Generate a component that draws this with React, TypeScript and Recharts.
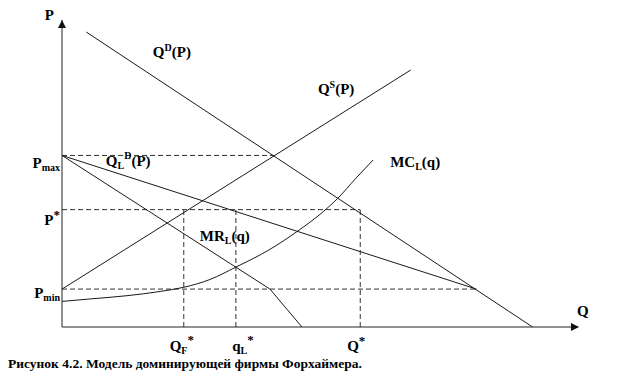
import { ComposedChart, Line, XAxis, YAxis, ReferenceLine, ReferenceDot } from "recharts";

// price levels and quantities (chart units: Q 0..100, P 0..102)
const P_MAX = 57;
const P_STAR = 39;
const P_MIN = 12.6;
const Q_F = 23.6;
const Q_L = 33.7;
const Q_STAR = 57.8;
const Q_CROSS = 41.1; // supply meets market demand at P_max
const Q_KINK = 80.3; // leader's demand joins market demand at P_min

const yTicks = [P_MIN, P_STAR, P_MAX];
const xTicks = [Q_F, Q_L, Q_STAR];

const marketDemand = [
  { q: 4.7, p: 98 },
  { q: 91.2, p: 0 },
];
const fringeSupply = [
  { q: 0, p: 12.6 },
  { q: 67.6, p: 85.4 },
];
const leaderDemand = [
  { q: 0, p: 57 },
  { q: 80.3, p: 12.6 },
];
const leaderMR = [
  { q: 0, p: 57 },
  { q: 40.3, p: 12.6 },
  { q: 46.5, p: 0 },
];
const leaderMC = [
  { q: 0, p: 8.5 },
  { q: 6, p: 9.4 },
  { q: 12.6, p: 10.4 },
  { q: 19, p: 11.8 },
  { q: 23.6, p: 13.2 },
  { q: 28.7, p: 15.8 },
  { q: 33.7, p: 19.9 },
  { q: 40, p: 25.5 },
  { q: 45.7, p: 31.9 },
  { q: 50.4, p: 38 },
  { q: 53.3, p: 42.5 },
  { q: 57, p: 49.5 },
  { q: 60.3, p: 55.5 },
];

const FAMILY = "Liberation Serif";
const font = { fontFamily: FAMILY, fontWeight: 700, fill: "#000" };
const LINE = "#1a1a1a";
const DASH = "#333";

type LabProps = { main: string; sub?: string; sup?: string; tail?: string };

function labelSpans({ main, sub, sup, tail }: LabProps) {
  const supSize = sup === "*" ? 13 : 10;
  const out: any[] = [<tspan key="m">{main}</tspan>];
  if (sub) out.push(<tspan key="s" fontSize={10} dy={3}>{sub}</tspan>);
  if (sup) out.push(<tspan key="u" fontSize={supSize} dy={sub ? -10 : -6}>{sup}</tspan>);
  if (tail) out.push(<tspan key="t" dy={sup ? (sub ? 7 : 6) : sub ? -3 : 0}>{tail}</tspan>);
  return out;
}

const yLabels: Record<number, LabProps & { dy: number }> = {
  [P_MAX]: { main: "P", sub: "max", dy: 13 },
  [P_STAR]: { main: "P", sup: "*", dy: 15 },
  [P_MIN]: { main: "P", sub: "min", dy: 9 },
};
const xLabels: Record<number, LabProps & { dx: number }> = {
  [Q_F]: { main: "Q", sub: "F", sup: "*", dx: -2 },
  [Q_L]: { main: "q", sub: "L", sup: "*", dx: 7 },
  [Q_STAR]: { main: "Q", sup: "*", dx: -4 },
};

function YTick(props: any) {
  const { x, y, payload } = props;
  const l = yLabels[payload.value];
  if (!l) return null;
  return (
    <text x={x - 2} y={y + l.dy} textAnchor="end" fontSize={15} style={font}>
      {labelSpans(l)}
    </text>
  );
}

function XTick(props: any) {
  const { x, y, payload } = props;
  const l = xLabels[payload.value];
  if (!l) return null;
  return (
    <text x={x + l.dx} y={y + 24} textAnchor="middle" fontSize={15} style={font}>
      {labelSpans(l)}
    </text>
  );
}

function textDot(lab: LabProps, dx = 0, dy = 0) {
  return (p: any) => (
    <text x={p.cx + dx} y={p.cy + dy} fontSize={15} style={font}>
      {labelSpans(lab)}
    </text>
  );
}

export default function App() {
  return (
    <div style={{ position: "absolute", left: 0, top: 0, width: 640, height: 380, background: "#fff" }}>
      <ComposedChart width={640} height={380} data={marketDemand} margin={{ top: 20, right: 62, left: 0, bottom: 0 }}>
        <XAxis
          type="number"
          dataKey="q"
          domain={[0, 100]}
          ticks={xTicks}
          interval={0}
          height={53}
          tickSize={0}
          tickMargin={0}
          tickLine={false}
          axisLine={{ stroke: "#222", strokeWidth: 1 }}
          tick={<XTick />}
        />
        <YAxis
          type="number"
          dataKey="p"
          domain={[0, 102]}
          ticks={yTicks}
          interval={0}
          width={62}
          tickSize={0}
          tickMargin={0}
          tickLine={false}
          axisLine={{ stroke: "#222", strokeWidth: 1 }}
          tick={<YTick />}
        />

        {/* dashed guide lines */}
        <ReferenceLine segment={[{ x: 0, y: P_MAX }, { x: Q_CROSS, y: P_MAX }]} stroke={DASH} strokeDasharray="5 3" />
        <ReferenceLine segment={[{ x: 0, y: P_STAR }, { x: Q_STAR, y: P_STAR }]} stroke={DASH} strokeDasharray="5 3" />
        <ReferenceLine segment={[{ x: 0, y: P_MIN }, { x: Q_KINK, y: P_MIN }]} stroke={DASH} strokeDasharray="5 3" />
        <ReferenceLine segment={[{ x: Q_F, y: 0 }, { x: Q_F, y: P_STAR }]} stroke={DASH} strokeDasharray="5 3" />
        <ReferenceLine segment={[{ x: Q_L, y: 0 }, { x: Q_L, y: P_STAR }]} stroke={DASH} strokeDasharray="5 3" />
        <ReferenceLine segment={[{ x: Q_STAR, y: 0 }, { x: Q_STAR, y: P_STAR }]} stroke={DASH} strokeDasharray="5 3" />

        <Line data={marketDemand} dataKey="p" type="linear" stroke={LINE} strokeWidth={1} dot={false} isAnimationActive={false} />
        <Line data={fringeSupply} dataKey="p" type="linear" stroke={LINE} strokeWidth={1} dot={false} isAnimationActive={false} />
        <Line data={leaderDemand} dataKey="p" type="linear" stroke={LINE} strokeWidth={1} dot={false} isAnimationActive={false} />
        <Line data={leaderMR} dataKey="p" type="linear" stroke={LINE} strokeWidth={1} dot={false} isAnimationActive={false} />
        <Line data={leaderMC} dataKey="p" type="monotone" stroke={LINE} strokeWidth={1} dot={false} isAnimationActive={false} />

        {/* axis arrows and names */}
        <ReferenceDot
          x={0}
          y={102}
          ifOverflow="visible"
          shape={(p: any) => (
            <g>
              <polygon points={`${p.cx},${p.cy} ${p.cx - 4},${p.cy + 8} ${p.cx + 4},${p.cy + 8}`} fill="#111" />
              <text x={p.cx - 8} y={p.cy} textAnchor="end" fontSize={15} style={font}>P</text>
            </g>
          )}
        />
        <ReferenceDot
          x={100}
          y={0}
          ifOverflow="visible"
          shape={(p: any) => (
            <g>
              <polygon points={`${p.cx + 1},${p.cy} ${p.cx - 7},${p.cy - 4} ${p.cx - 7},${p.cy + 4}`} fill="#111" />
              <text x={p.cx - 1} y={p.cy - 11} fontSize={15} style={font}>Q</text>
            </g>
          )}
        />

        {/* curve labels */}
        <ReferenceDot x={17.6} y={89.7} ifOverflow="visible" shape={textDot({ main: "Q", sup: "D", tail: "(P)" })} />
        <ReferenceDot x={49.6} y={77.4} ifOverflow="visible" shape={textDot({ main: "Q", sup: "S", tail: "(P)" })} />
        <ReferenceDot x={8.5} y={53.5} ifOverflow="visible" shape={textDot({ main: "Q", sub: "L", sup: "D", tail: "(P)" })} />
        <ReferenceDot x={63.6} y={53.2} ifOverflow="visible" shape={textDot({ main: "MC", sub: "L", tail: "(q)" })} />
        <ReferenceDot x={26.7} y={28.6} ifOverflow="visible" shape={textDot({ main: "MR", sub: "L", tail: "(q)" })} />
      </ComposedChart>
      <div
        style={{
          position: "absolute",
          left: 8,
          top: 357,
          fontFamily: FAMILY,
          fontWeight: 700,
          fontSize: 13.5,
          lineHeight: "14px",
          whiteSpace: "nowrap",
          color: "#000",
        }}
      >
        Рисунок 4.2. Модель доминирующей фирмы Форхаймера.
      </div>
    </div>
  );
}
